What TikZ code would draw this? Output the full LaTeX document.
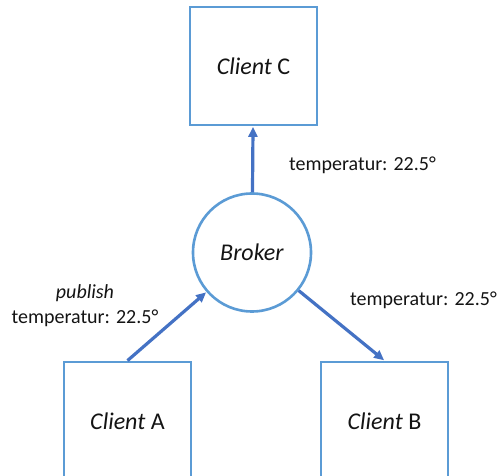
\documentclass[tikz,border=0pt]{standalone}
\usepackage{fontspec}
\setmainfont{Carlito}
\usetikzlibrary{arrows.meta}
\definecolor{shapeblue}{RGB}{91,155,213}
\definecolor{arrowblue}{RGB}{68,114,196}
\definecolor{inktext}{RGB}{20,20,20}
\tikzset{
  clientbox/.style={draw=shapeblue, line width=2.8pt, fill=white, rectangle,
    minimum width=127pt, minimum height=118pt, inner sep=0pt,
    font=\fontsize{24}{28}\selectfont, text=inktext},
  brokernode/.style={draw=shapeblue, line width=2.6pt, fill=white, circle,
    minimum size=118pt, inner sep=0pt,
    font=\fontsize{24}{28}\selectfont, text=inktext},
  flow/.style={draw=arrowblue, line width=3.2pt,
    -{Triangle[length=10pt,width=9pt]}, shorten >=0.5pt},
  msg/.style={font=\fontsize{20}{25}\selectfont, text=inktext, inner sep=0pt}
}
\begin{document}
\begin{tikzpicture}[x=1pt,y=-1pt]
  \useasboundingbox (0,0) rectangle (499,476);
  \clip (0,0) rectangle (499,476);

  % clients and broker
  \node[clientbox] (C) at (253.5,66) {\textit{Client} C};
  \node[brokernode] (broker) at (252,252.5) {\textit{Broker}};
  \node[clientbox] (A) at (127.5,421) {\textit{Client} A};
  \node[clientbox] (B) at (384.5,421) {\textit{Client} B};

  % message flow
  \draw[flow] (A.north) -- (broker);
  \draw[flow] (broker) -- (B.north);
  \draw[flow] (broker) -- (C);

  % message labels
  \node[msg, align=center] (pubA) at (85,306) {\textit{publish}\\temperatur: 22.5°};
  \node[msg, anchor=west] (msgC) at (289,165) {temperatur: 22.5°};
  \node[msg, anchor=east] (msgB) at (497,300) {temperatur: 22.5°};
\end{tikzpicture}
\end{document}
